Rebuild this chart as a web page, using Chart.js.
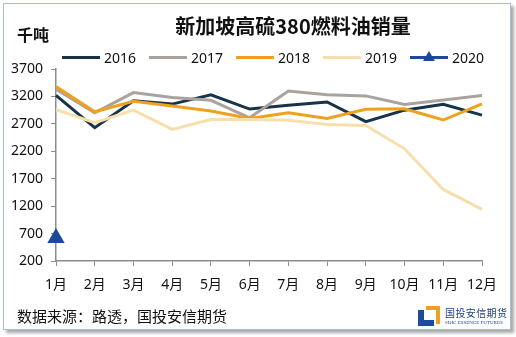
<!DOCTYPE html>
<html>
<head>
<meta charset="utf-8">
<script src="https://cdn.jsdelivr.net/npm/chart.js@4/dist/chart.umd.min.js"></script>
<style>
  html, body { margin: 0; padding: 0; background: #fff; }
  body { width: 516px; height: 337px; position: relative; overflow: hidden;
         font-family: "Noto Sans", "Noto Sans CJK SC", sans-serif; }
  #frame { position: absolute; left: 3px; top: 3px; width: 506px; height: 325px;
           border: 1px solid #a9bcd9; box-shadow: 3px 3px 3px #a8a8a8; background: #fff; }
  #chart { position: absolute; left: 0; top: 0; }
  #title { position: absolute; left: 0; width: 586px; top: 11px; text-align: center;
           font: bold 20px "Noto Sans CJK SC", sans-serif; color: #111; }
  #unit { position: absolute; left: 17px; top: 22px; font: bold 16px "Noto Sans CJK SC", sans-serif; color: #111; }
  #legend { position: absolute; left: 62px; top: 48px; display: flex; }
  .item { width: 87px; display: flex; align-items: center; font-size: 14px; color: #111; }
  .swatch { width: 38px; height: 3px; margin-right: 4px; position: relative; }
  .swatch .tri { position: absolute; left: 13px; top: -5px; width: 0; height: 0;
                 border-left: 6px solid transparent; border-right: 6px solid transparent;
                 border-bottom: 10px solid; }
  #source { position: absolute; left: 17px; top: 305px; font: 15px "Noto Sans CJK SC", sans-serif; color: #111; }
  #logo { position: absolute; left: 418px; top: 304px; }
  #logo .mark { position: absolute; left: 0; top: 2px; width: 22px; height: 20px; }
  #logo .name { position: absolute; left: 27px; top: 1px; font: 10px "Noto Sans CJK SC", sans-serif;
                color: #1d3f86; white-space: nowrap; letter-spacing: 0.4px; }
  #logo .en { position: absolute; left: 27px; top: 16px; font: 5px "Liberation Serif", serif;
              color: #1d3f86; white-space: nowrap; }
</style>
</head>
<body>
<div id="frame"></div>
<canvas id="chart" width="516" height="337"></canvas>
<div id="title">新加坡高硫380燃料油销量</div>
<div id="unit">千吨</div>
<div id="legend"></div>
<div id="source">数据来源：路透，国投安信期货</div>
<div id="logo">
  <svg class="mark" viewBox="0 0 22 20">
    <path d="M0 4 H6 V14 H16 V20 H0 Z" fill="#1d4c9c"/>
    <path d="M8 0 H22 V18 H18 V4 H8 Z" fill="#f0a020"/>
  </svg>
  <div class="name">国投安信期货</div>
  <div class="en">SDIC ESSENCE FUTURES</div>
</div>
<script>
const months = ['1月', '2月', '3月', '4月', '5月', '6月', '7月', '8月', '9月', '10月', '11月', '12月'];
const years = ['2016', '2017', '2018', '2019', '2020'];

// monthly sales, thousand tonnes
const sales2016 = [3220, 2630, 3120, 3060, 3230, 2970, 3040, 3100, 2740, 2950, 3055, 2860];
const sales2017 = [3330, 2900, 3270, 3180, 3130, 2810, 3300, 3230, 3210, 3055, 3135, 3215];
const sales2018 = [3380, 2920, 3110, 3025, 2935, 2800, 2900, 2800, 2965, 2975, 2770, 3065];
const sales2019 = [2960, 2720, 2950, 2600, 2780, 2780, 2765, 2690, 2670, 2245, 1505, 1140];
const sales2020 = [620];

const yMin = 200;
const yMax = 3700;
const yStep = 500;

const colors = ['#17334b', '#aaa39d', '#eea11c', '#f5e0ad', '#1b4a9c'];
const series = [sales2016, sales2017, sales2018, sales2019, sales2020];

const datasets = series.map((data, i) => ({
  label: years[i],
  data: data,
  borderColor: colors[i],
  backgroundColor: colors[i],
  borderWidth: 3,
  tension: 0,
  pointRadius: i === 4 ? 7 : 0,
  pointStyle: 'triangle',
  order: 4 - i // later years drawn on top
}));

// legend built from the datasets
const legend = document.getElementById('legend');
datasets.forEach(ds => {
  const item = document.createElement('div');
  item.className = 'item';
  const sw = document.createElement('div');
  sw.className = 'swatch';
  sw.style.background = ds.borderColor;
  if (ds.pointRadius > 0) {
    const tri = document.createElement('div');
    tri.className = 'tri';
    tri.style.borderBottomColor = ds.borderColor;
    sw.appendChild(tri);
  }
  item.appendChild(sw);
  item.appendChild(document.createTextNode(ds.label));
  legend.appendChild(item);
});

const axisColor = '#8c8c8c';
const tickFont = { family: '"Noto Sans", "Noto Sans CJK SC", sans-serif', size: 14 };

new Chart(document.getElementById('chart').getContext('2d'), {
  type: 'line',
  data: { labels: months, datasets: datasets },
  options: {
    responsive: false,
    animation: false,
    layout: { padding: { left: 0, top: 69, right: 34, bottom: 46 } },
    plugins: { legend: { display: false }, tooltip: { enabled: false } },
    scales: {
      x: {
        offset: false,
        grid: { drawOnChartArea: false, color: axisColor, tickLength: 5 },
        border: { color: axisColor, width: 1.5 },
        ticks: { color: '#111', font: tickFont, padding: 11, maxRotation: 0, autoSkip: false },
        afterFit: scale => { scale.height = 30; }
      },
      y: {
        min: yMin,
        max: yMax,
        grid: { drawOnChartArea: false, color: axisColor, tickLength: 5 },
        border: { color: axisColor, width: 1.5 },
        ticks: { stepSize: yStep, color: '#111', font: tickFont, padding: 8,
                 callback: value => String(value) },
        afterFit: scale => { scale.width = 56; }
      }
    }
  }
});
</script>
</body>
</html>
